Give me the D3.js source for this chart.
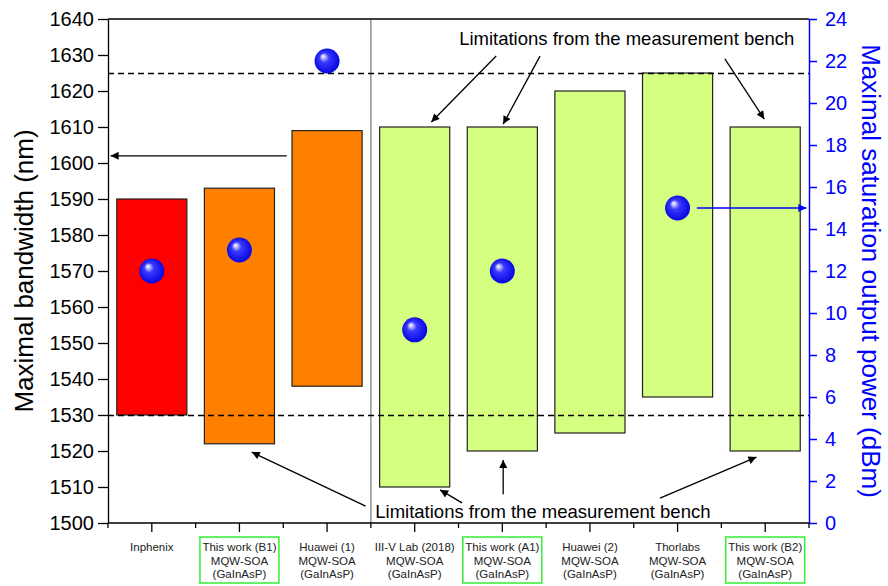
<!DOCTYPE html>
<html>
<head>
<meta charset="utf-8">
<script src="https://cdnjs.cloudflare.com/ajax/libs/d3/7.8.5/d3.min.js"></script>
<style>
  body { margin: 0; background: #fff; }
  svg { font-family: "Liberation Sans", Arial, sans-serif; }
</style>
</head>
<body>
<div id="chart"></div>
<script>
// categories and values
var categories = ["Inphenix", "This work (B1)", "Huawei (1)", "III-V Lab (2018)",
                  "This work (A1)", "Huawei (2)", "Thorlabs", "This work (B2)"];
var subLines = [[], ["MQW-SOA", "(GaInAsP)"], ["MQW-SOA", "(GaInAsP)"], ["MQW-SOA", "(GaInAsP)"],
                ["MQW-SOA", "(GaInAsP)"], ["MQW-SOA", "(GaInAsP)"], ["MQW-SOA", "(GaInAsP)"], ["MQW-SOA", "(GaInAsP)"]];
var bwMin = [1530, 1522, 1538, 1510, 1520, 1525, 1535, 1520];
var bwMax = [1590, 1593, 1609, 1610, 1610, 1620, 1625, 1610];
var psat  = [12, 13, 22, 9.2, 12, null, 15, null];
var barGroup = [0, 1, 1, 2, 2, 2, 2, 2];
var thisWork = [false, true, false, false, true, false, false, true];
var benchLimits = [1530, 1625];
var leftTicks = d3.range(1500, 1641, 10);
var rightTicks = d3.range(0, 25, 2);
var annotText = "Limitations from the measurement bench";

var W = 888, H = 586;
var m = {left: 108, right: 809, top: 19, bottom: 523};

var svg = d3.select("#chart").append("svg")
    .attr("width", W).attr("height", H);

var x = d3.scaleBand().domain(categories).range([m.left, m.right])
    .paddingInner(0.2).paddingOuter(0.1);
var y = d3.scaleLinear().domain([1500, 1640]).range([m.bottom, m.top]);
var y2 = d3.scaleLinear().domain([0, 24]).range([m.bottom, m.top]);
// continuous index scale for annotations (0 = first category centre)
var xi = d3.scaleLinear().domain([0, 1])
    .range([x(categories[0]) + x.bandwidth() / 2, x(categories[1]) + x.bandwidth() / 2]);
var color = d3.scaleOrdinal().domain([0, 1, 2]).range(["#ff0000", "#ff8000", "#d5ff80"]);

var defs = svg.append("defs");
var grad = defs.append("radialGradient").attr("id", "ball")
    .attr("cx", "50%").attr("cy", "50%").attr("r", "55%")
    .attr("fx", "33%").attr("fy", "30%");
grad.append("stop").attr("offset", "0%").attr("stop-color", "#ffffff");
grad.append("stop").attr("offset", "12%").attr("stop-color", "#c8c8ff");
grad.append("stop").attr("offset", "35%").attr("stop-color", "#3a3aff");
grad.append("stop").attr("offset", "100%").attr("stop-color", "#0000dd");

function marker(id, col) {
  defs.append("marker").attr("id", id)
      .attr("viewBox", "0 0 10 10").attr("refX", 10).attr("refY", 5)
      .attr("markerWidth", 10).attr("markerHeight", 8)
      .attr("markerUnits", "userSpaceOnUse")
      .attr("orient", "auto")
    .append("path").attr("d", "M0,0 L10,5 L0,10 z").attr("fill", col);
}
marker("arrK", "#000");
marker("arrB", "#0000ff");

var idx = categories.map(function(d, i) { return i; });

// bars
svg.append("g").selectAll("rect").data(idx).enter().append("rect")
    .attr("x", function(i) { return x(categories[i]); })
    .attr("width", x.bandwidth())
    .attr("y", function(i) { return y(bwMax[i]); })
    .attr("height", function(i) { return y(bwMin[i]) - y(bwMax[i]); })
    .attr("fill", function(i) { return color(barGroup[i]); })
    .attr("stroke", "#222").attr("stroke-width", 1.2);

// separator
svg.append("line")
    .attr("x1", xi(2.5)).attr("x2", xi(2.5))
    .attr("y1", m.top).attr("y2", m.bottom)
    .attr("stroke", "#808080").attr("stroke-width", 1.3);

// measurement bench limits
svg.append("g").selectAll("line").data(benchLimits).enter().append("line")
    .attr("x1", m.left).attr("x2", m.right)
    .attr("y1", function(d) { return Math.round(y(d)) + 0.5; })
    .attr("y2", function(d) { return Math.round(y(d)) + 0.5; })
    .attr("stroke", "#000").attr("stroke-width", 1.3)
    .attr("stroke-dasharray", "6,4");

// axes
var gl = svg.append("g").attr("transform", "translate(" + m.left + ",0)");
gl.call(d3.axisLeft(y).tickValues(d3.range(1500, 1641, 2)).tickSize(4).tickFormat(""));
gl.call(d3.axisLeft(y).tickValues(leftTicks).tickSize(10).tickPadding(4).tickSizeOuter(0)
    .tickFormat(d3.format("d")));
gl.selectAll("text").attr("font-size", 20).attr("fill", "#000").attr("font-family", "Liberation Sans, Arial");
gl.selectAll("line, path").attr("stroke", "#000").attr("stroke-width", 1.3);

var gr = svg.append("g").attr("transform", "translate(" + m.right + ",0)");
gr.call(d3.axisRight(y2).tickValues(d3.range(0, 24.01, 0.5)).tickSize(4).tickFormat(""));
gr.call(d3.axisRight(y2).tickValues(rightTicks).tickSize(8).tickPadding(8).tickSizeOuter(0));
gr.selectAll("text").attr("font-size", 20).attr("fill", "#0000ff").attr("font-family", "Liberation Sans, Arial");
gr.selectAll("line, path").attr("stroke", "#0000ff").attr("stroke-width", 1.5);

// top frame
svg.append("line").attr("x1", m.left).attr("x2", m.right)
    .attr("y1", m.top).attr("y2", m.top).attr("stroke", "#000").attr("stroke-width", 1.3);

// bottom axis
var gb = svg.append("g").attr("transform", "translate(0," + m.bottom + ")");
gb.append("line").attr("x1", m.left).attr("x2", m.right)
    .attr("stroke", "#000").attr("stroke-width", 1.3);
gb.selectAll(".maj").data(idx).enter().append("line")
    .attr("x1", function(i) { return xi(i); }).attr("x2", function(i) { return xi(i); })
    .attr("y2", 9).attr("stroke", "#000").attr("stroke-width", 1.3);
gb.selectAll(".min").data(d3.range(0, 9)).enter().append("line")
    .attr("x1", function(i) { return xi(i - 0.5); }).attr("x2", function(i) { return xi(i - 0.5); })
    .attr("y2", 5).attr("stroke", "#000").attr("stroke-width", 1.3);

// category labels
var lab = svg.append("g").selectAll("g").data(idx).enter().append("g")
    .attr("transform", function(i) { return "translate(" + xi(i) + ",0)"; });
lab.filter(function(i) { return thisWork[i]; }).append("rect")
    .attr("x", -39.5).attr("y", 537).attr("width", 79).attr("height", 46)
    .attr("fill", "none").attr("stroke", "#33ee33").attr("stroke-width", 1.5);
lab.append("text").attr("text-anchor", "middle").attr("font-size", 11.5).attr("fill", "#222")
    .each(function(i) {
      var t = d3.select(this);
      [categories[i]].concat(subLines[i]).forEach(function(s, k) {
        t.append("tspan").attr("x", 0).attr("y", 551 + k * 13.5).text(s);
      });
    });

// axis titles
svg.append("text")
    .attr("transform", "translate(33," + (m.top + m.bottom) / 2 + ") rotate(-90)")
    .attr("text-anchor", "middle").attr("font-size", 26).attr("fill", "#000")
    .text("Maximal bandwidth (nm)");
svg.append("text")
    .attr("transform", "translate(862," + (m.top + m.bottom) / 2 + ") rotate(90)")
    .attr("text-anchor", "middle").attr("font-size", 26).attr("fill", "#0000ff")
    .text("Maximal saturation output power (dBm)");

// annotations: [x0 idx, y0 nm, x1 idx, y1 nm]
var arrows = [
  [1.54, 1602, -0.47, 1602],
  [3.93, 1629.7, 3.19, 1611.4],
  [4.43, 1629.7, 4.01, 1610.8],
  [6.54, 1628.9, 6.99, 1612.2],
  [2.44, 1504.7, 1.14, 1519.7],
  [3.54, 1505.6, 3.29, 1509.2],
  [4.01, 1508.0, 4.01, 1517.5],
  [5.80, 1506.9, 6.90, 1518.3]
];
svg.append("g").selectAll("line").data(arrows).enter().append("line")
    .attr("x1", function(d) { return xi(d[0]); }).attr("y1", function(d) { return y(d[1]); })
    .attr("x2", function(d) { return xi(d[2]); }).attr("y2", function(d) { return y(d[3]); })
    .attr("stroke", "#000").attr("stroke-width", 1.3)
    .attr("marker-end", "url(#arrK)");

// blue arrow to right axis
svg.append("line")
    .attr("x1", xi(6.22)).attr("x2", xi(7.47))
    .attr("y1", y2(15)).attr("y2", y2(15))
    .attr("stroke", "#0000ff").attr("stroke-width", 1.3)
    .attr("marker-end", "url(#arrB)");

svg.append("text").attr("x", xi(5.42)).attr("y", y(1632.8))
    .attr("text-anchor", "middle").attr("font-size", 18.5).attr("fill", "#000").text(annotText);
svg.append("text").attr("x", xi(2.55)).attr("y", y(1501.4))
    .attr("text-anchor", "start").attr("font-size", 18.5).attr("fill", "#000").text(annotText);

// saturation power spheres
svg.append("g").selectAll("circle")
    .data(idx.filter(function(i) { return psat[i] != null; })).enter().append("circle")
    .attr("cx", function(i) { return xi(i); })
    .attr("cy", function(i) { return y2(psat[i]); })
    .attr("r", 12.5)
    .attr("fill", "url(#ball)");
</script>
</body>
</html>
